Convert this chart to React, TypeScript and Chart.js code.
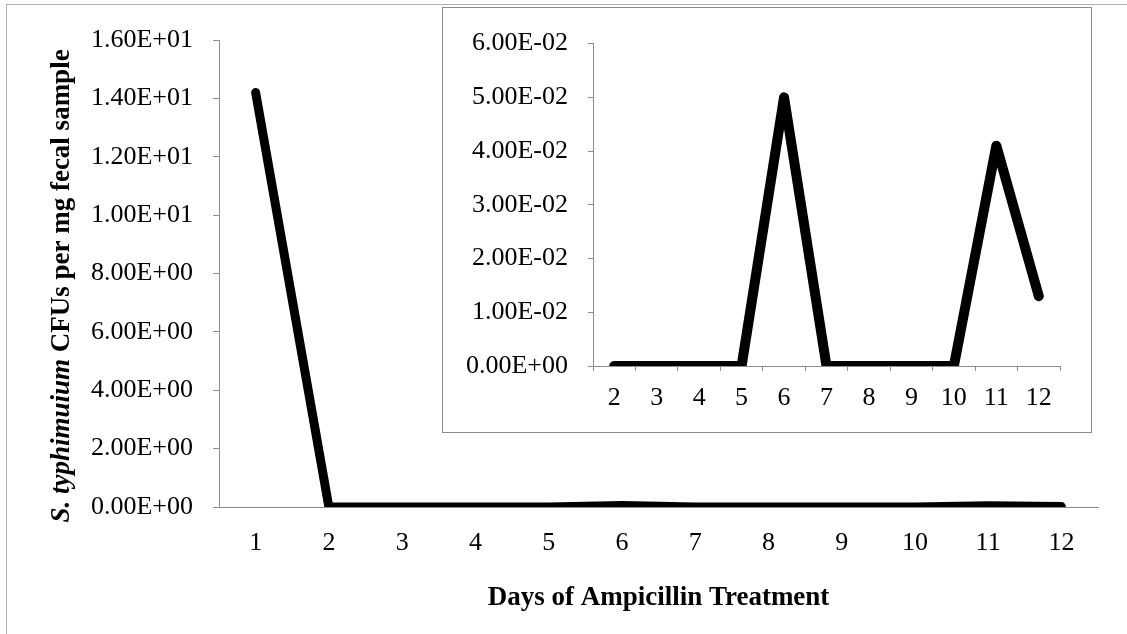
import { useEffect, useRef } from 'react';
import { Chart, registerables } from 'chart.js';

Chart.register(...registerables);

// Days of ampicillin treatment and S. typhimurium counts (CFUs per mg feces)
const days = ['1', '2', '3', '4', '5', '6', '7', '8', '9', '10', '11', '12'];
const cfuPerMg = [14.2, 0, 0, 0, 0, 0.05, 0, 0, 0, 0, 0.041, 0.013];

// Inset zooms in on days 2-12
const insetDays = days.slice(1);
const insetCfu = cfuPerMg.slice(1);

const mainYMax = 16;
const mainYStep = 2;
const insetYMax = 0.06;
const insetYStep = 0.01;

const W = 1127;
const H = 634;
const AXIS_GREY = '#8c8c8c';
const SERIF = '"Liberation Serif", "Times New Roman", serif';
const TICK_SIZE = 26;

// Excel-style scientific notation: 1.60E+01, 5.00E-02
function sci(v: number): string {
  const [m, e] = Number(v).toExponential(2).split('e');
  const sign = e.startsWith('-') ? '-' : '+';
  const digits = e.replace(/^[+-]/, '').padStart(2, '0');
  return `${m}E${sign}${digits}`;
}

const axisTitles = {
  id: 'axisTitles',
  afterDraw(chart: Chart) {
    const { ctx, chartArea } = chart;
    ctx.save();
    ctx.fillStyle = '#000';
    ctx.textBaseline = 'middle';

    // horizontal axis title
    ctx.font = `bold 27px ${SERIF}`;
    ctx.textAlign = 'center';
    ctx.fillText('Days of Ampicillin Treatment', (chartArea.left + chartArea.right) / 2, 598);

    // vertical axis title with italic species name
    const italicPart = 'S. typhimuium ';
    const plainPart = 'CFUs per mg fecal sample';
    ctx.font = `italic bold 27px ${SERIF}`;
    const w1 = ctx.measureText(italicPart).width;
    ctx.font = `bold 27px ${SERIF}`;
    const w2 = ctx.measureText(plainPart).width;
    const total = w1 + w2;
    ctx.translate(62, 286);
    ctx.rotate(-Math.PI / 2);
    ctx.textAlign = 'left';
    ctx.font = `italic bold 27px ${SERIF}`;
    ctx.fillText(italicPart, -total / 2, 0);
    ctx.font = `bold 27px ${SERIF}`;
    ctx.fillText(plainPart, -total / 2 + w1, 0);
    ctx.restore();
  },
};

export default function App() {
  const mainRef = useRef<HTMLCanvasElement>(null);
  const insetRef = useRef<HTMLCanvasElement>(null);

  useEffect(() => {
    if (!mainRef.current || !insetRef.current) return;

    const main = new Chart(mainRef.current, {
      type: 'line',
      data: {
        labels: days,
        datasets: [
          {
            data: cfuPerMg,
            borderColor: '#000',
            borderWidth: 9,
            borderCapStyle: 'round',
            borderJoinStyle: 'round',
            pointRadius: 0,
            tension: 0,
            fill: false,
          },
        ],
      },
      options: {
        responsive: false,
        animation: false,
        devicePixelRatio: 1,
        layout: { padding: { top: 40, right: 29, left: 0, bottom: 0 } },
        plugins: { legend: { display: false }, tooltip: { enabled: false } },
        scales: {
          x: {
            offset: true,
            grid: { display: true, drawOnChartArea: false, drawTicks: false, color: AXIS_GREY },
            border: { display: true, color: AXIS_GREY, width: 1 },
            ticks: { color: '#000', font: { family: SERIF, size: TICK_SIZE }, padding: 21, maxRotation: 0 },
            afterFit: (s: any) => {
              s.height = H - 507;
            },
          },
          y: {
            min: 0,
            max: mainYMax,
            grid: { display: true, drawOnChartArea: false, drawTicks: true, tickLength: 6, color: AXIS_GREY },
            border: { display: true, color: AXIS_GREY, width: 1 },
            ticks: {
              stepSize: mainYStep,
              color: '#000',
              font: { family: SERIF, size: TICK_SIZE },
              padding: 20,
              callback: (v: any) => sci(Number(v)),
            },
            afterFit: (s: any) => {
              s.width = 219;
            },
          },
        },
      },
      plugins: [axisTitles],
    });

    const inset = new Chart(insetRef.current, {
      type: 'line',
      data: {
        labels: insetDays,
        datasets: [
          {
            data: insetCfu,
            borderColor: '#000',
            borderWidth: 10,
            borderCapStyle: 'round',
            borderJoinStyle: 'round',
            pointRadius: 0,
            tension: 0,
            fill: false,
          },
        ],
      },
      options: {
        responsive: false,
        animation: false,
        devicePixelRatio: 1,
        layout: { padding: { top: 35, right: 31, left: 0, bottom: 0 } },
        plugins: { legend: { display: false }, tooltip: { enabled: false } },
        scales: {
          x: {
            offset: true,
            grid: {
              display: true,
              offset: true,
              drawOnChartArea: false,
              drawTicks: true,
              tickLength: 5,
              color: AXIS_GREY,
            },
            border: { display: true, color: AXIS_GREY, width: 1 },
            ticks: { color: '#000', font: { family: SERIF, size: TICK_SIZE }, padding: 12, maxRotation: 0 },
            afterFit: (s: any) => {
              s.height = 424 - 358;
            },
          },
          y: {
            min: 0,
            max: insetYMax,
            grid: { display: true, drawOnChartArea: false, drawTicks: true, tickLength: 5, color: AXIS_GREY },
            border: { display: true, color: AXIS_GREY, width: 1 },
            ticks: {
              stepSize: insetYStep,
              color: '#000',
              font: { family: SERIF, size: TICK_SIZE },
              padding: 20,
              callback: (v: any) => sci(Number(v)),
            },
            afterFit: (s: any) => {
              s.width = 150;
            },
          },
        },
      },
    });

    return () => {
      main.destroy();
      inset.destroy();
    };
  }, []);

  return (
    <div
      style={{
        position: 'fixed',
        left: 0,
        top: 0,
        width: W,
        height: H,
        overflow: 'hidden',
        background: '#fff',
      }}
    >
      <div
        style={{
          position: 'absolute',
          left: 6,
          top: 4,
          width: W + 50,
          height: H + 50,
          borderLeft: '1px solid #b0b0b0',
          borderTop: '1px solid #b0b0b0',
        }}
      />
      <canvas
        ref={mainRef}
        width={W}
        height={H}
        style={{ position: 'absolute', left: 0, top: 0, width: W, height: H }}
      />
      <div
        style={{
          position: 'absolute',
          left: 442,
          top: 7,
          width: 650,
          height: 426,
          boxSizing: 'border-box',
          border: `1px solid ${AXIS_GREY}`,
          background: '#fff',
        }}
      >
        <canvas ref={insetRef} width={648} height={424} style={{ display: 'block', width: 648, height: 424 }} />
      </div>
    </div>
  );
}
